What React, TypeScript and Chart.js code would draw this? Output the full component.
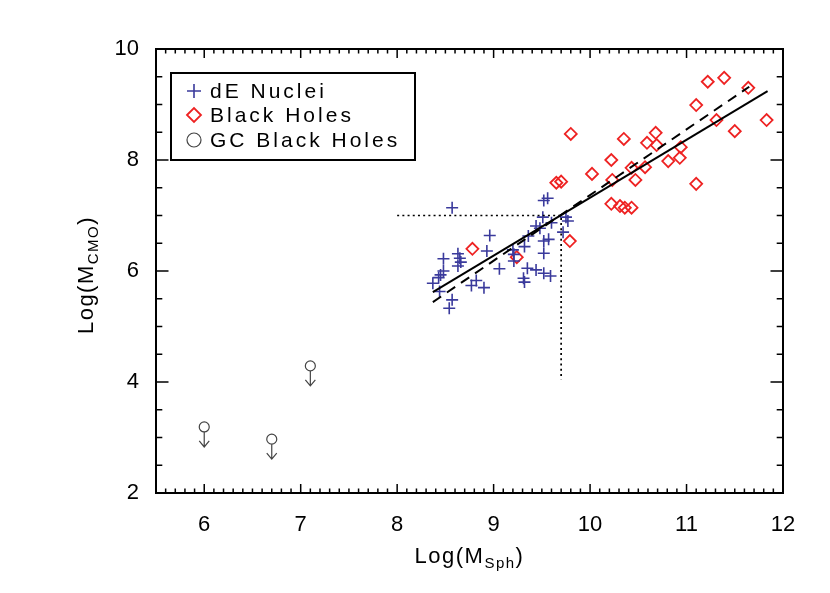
import React, { useEffect, useRef } from 'react';
import { Chart, registerables } from 'chart.js';

Chart.register(...registerables);

// ---- data ----
const seriesNames = ['dE Nuclei', 'Black Holes', 'GC Black Holes'];

const dENucleiX = [8.57, 8.96, 8.93, 8.48, 8.63, 8.65, 8.66, 8.63, 8.48, 8.45, 8.43, 8.37, 9.06, 8.82, 8.77, 8.90, 8.44, 8.57, 8.54,
  9.52, 9.56, 9.51, 9.60, 9.75, 9.77, 9.44, 9.48, 9.72, 9.36, 9.52, 9.57, 9.32, 9.20, 9.21, 9.52, 9.21, 9.35, 9.44, 9.52, 9.59, 9.31, 9.32];
const dENucleiY = [7.14, 6.64, 6.36, 6.22, 6.31, 6.23, 6.16, 6.09, 6.00, 5.93, 5.88, 5.78, 6.04, 5.83, 5.74, 5.70, 5.63, 5.48, 5.33,
  7.27, 7.31, 6.97, 6.87, 6.97, 6.90, 6.81, 6.77, 6.70, 6.63, 6.54, 6.57, 6.44, 6.38, 6.30, 6.32, 6.18, 6.05, 6.02, 5.96, 5.91, 5.87, 5.80];

const blackHoleX = [8.78, 9.24, 9.65, 9.70, 9.79, 9.80, 10.02, 10.22, 10.23, 10.22, 10.31, 10.36, 10.43, 10.35, 10.43, 10.47,
  10.57, 10.59, 10.68, 10.69, 10.81, 10.94, 10.93, 11.10, 11.10, 11.22, 11.31, 11.39, 11.50, 11.64, 11.83];
const blackHoleY = [6.40, 6.25, 7.59, 7.61, 6.54, 8.47, 7.75, 8.00, 7.64, 7.21, 7.17, 7.14, 7.14, 8.38, 7.86, 7.64,
  7.87, 8.31, 8.49, 8.27, 7.98, 8.23, 8.04, 8.99, 7.57, 9.41, 8.72, 9.48, 8.52, 9.30, 8.72];

const gcX = [6.0, 6.7, 7.1];
const gcY = [3.19, 2.97, 4.29];

const fitSolidX = [8.37, 11.84];
const fitSolidY = [5.62, 9.24];
const fitDashedX = [8.37, 11.65];
const fitDashedY = [5.44, 9.32];
const dottedX = [8.0, 9.7, 9.7];
const dottedY = [7.0, 7.0, 4.05];

const xTicks = [6, 7, 8, 9, 10, 11, 12];
const yTicks = [2, 4, 6, 8, 10];
const xTitle = ['Log(M', 'Sph', ')'];
const yTitle = ['Log(M', 'CMO', ')'];

const BLUE = '#3a3a9c';
const RED = '#ee2222';
const GRAY = '#444444';
const FONT = '"Liberation Sans", Arial, sans-serif';

const zip = (xs: number[], ys: number[]) => xs.map((x, i) => ({ x, y: ys[i] }));

function drawTitle(ctx: any, parts: string[], cx: number, base: number) {
  const big = `22px ${FONT}`;
  const small = `15px ${FONT}`;
  ctx.letterSpacing = '1.5px';
  ctx.font = big;
  const w0 = ctx.measureText(parts[0]).width;
  const w2 = ctx.measureText(parts[2]).width;
  ctx.font = small;
  const w1 = ctx.measureText(parts[1]).width;
  let x = cx - (w0 + w1 + w2) / 2;
  ctx.textAlign = 'left';
  ctx.textBaseline = 'alphabetic';
  ctx.font = big;
  ctx.fillText(parts[0], x, base);
  x += w0;
  ctx.font = small;
  ctx.fillText(parts[1], x, base + 5);
  x += w1;
  ctx.font = big;
  ctx.fillText(parts[2], x, base);
  ctx.letterSpacing = '0px';
}

const framePlugin = {
  id: 'idlFrame',
  afterDatasetsDraw(chart: any) {
    const { ctx, chartArea: a, scales } = chart;
    const xs = scales.x;
    const ys = scales.y;
    ctx.save();
    // GC upper-limit arrows
    const meta = chart.getDatasetMeta(2);
    ctx.strokeStyle = GRAY;
    ctx.lineWidth = 1.2;
    meta.data.forEach((p: any) => {
      ctx.beginPath();
      ctx.moveTo(p.x, p.y + 5);
      ctx.lineTo(p.x, p.y + 20);
      ctx.moveTo(p.x - 5, p.y + 14);
      ctx.lineTo(p.x, p.y + 20);
      ctx.lineTo(p.x + 5, p.y + 14);
      ctx.stroke();
    });

    // frame
    ctx.strokeStyle = '#000';
    ctx.lineWidth = 2;
    ctx.strokeRect(a.left, a.top, a.right - a.left, a.bottom - a.top);
    ctx.lineWidth = 1.5;
    ctx.beginPath();
    const xmin = Math.round(xs.min * 10), xmax = Math.round(xs.max * 10);
    for (let i = xmin + 1; i < xmax; i++) {
      const major = i % 10 === 0;
      const len = major ? 9 : 4.5;
      const px = xs.getPixelForValue(i / 10);
      ctx.moveTo(px, a.bottom);
      ctx.lineTo(px, a.bottom - len);
      ctx.moveTo(px, a.top);
      ctx.lineTo(px, a.top + len);
    }
    const ymin = Math.round(ys.min * 2), ymax = Math.round(ys.max * 2);
    for (let i = ymin + 1; i < ymax; i++) {
      const major = i % 4 === 0;
      const len = major ? 12.5 : 6.3;
      const py = ys.getPixelForValue(i / 2);
      ctx.moveTo(a.left, py);
      ctx.lineTo(a.left + len, py);
      ctx.moveTo(a.right, py);
      ctx.lineTo(a.right - len, py);
    }
    ctx.stroke();

    // legend
    const lx = 171, ly = 73, lw = 244, lh = 87;
    ctx.fillStyle = '#fff';
    ctx.fillRect(lx, ly, lw, lh);
    ctx.lineWidth = 2;
    ctx.strokeStyle = '#000';
    ctx.strokeRect(lx, ly, lw, lh);
    const rows = [91, 115, 140];
    const sx = 194;
    // plus
    ctx.strokeStyle = BLUE;
    ctx.lineWidth = 1.6;
    ctx.beginPath();
    ctx.moveTo(sx - 7, rows[0]); ctx.lineTo(sx + 7, rows[0]);
    ctx.moveTo(sx, rows[0] - 7); ctx.lineTo(sx, rows[0] + 7);
    ctx.stroke();
    // diamond
    ctx.strokeStyle = RED;
    ctx.lineWidth = 1.8;
    ctx.beginPath();
    ctx.moveTo(sx - 7, rows[1]); ctx.lineTo(sx, rows[1] - 7); ctx.lineTo(sx + 7, rows[1]); ctx.lineTo(sx, rows[1] + 7);
    ctx.closePath();
    ctx.stroke();
    // circle
    ctx.strokeStyle = GRAY;
    ctx.lineWidth = 1.2;
    ctx.beginPath();
    ctx.arc(sx, rows[2], 7, 0, Math.PI * 2);
    ctx.stroke();
    ctx.fillStyle = '#000';
    ctx.font = `21px ${FONT}`;
    ctx.letterSpacing = '3px';
    ctx.textAlign = 'left';
    ctx.textBaseline = 'middle';
    seriesNames.forEach((n, i) => ctx.fillText(n, 210, rows[i] + 1));
    ctx.letterSpacing = '0px';

    // axis titles
    ctx.fillStyle = '#000';
    drawTitle(ctx, xTitle, (a.left + a.right) / 2, 563);
    ctx.save();
    ctx.translate(93, (a.top + a.bottom) / 2 + 4);
    ctx.rotate(-Math.PI / 2);
    drawTitle(ctx, yTitle, 0, 0);
    ctx.restore();
    ctx.restore();
  },
};

export default function App() {
  const ref = useRef<HTMLCanvasElement>(null);
  useEffect(() => {
    if (!ref.current) return;
    const chart = new Chart(ref.current, {
      type: 'scatter',
      data: {
        datasets: [
          {
            label: seriesNames[0],
            data: zip(dENucleiX, dENucleiY),
            pointStyle: 'cross',
            pointRadius: 6,
            borderColor: BLUE,
            backgroundColor: BLUE,
            pointBorderWidth: 1.6,
            order: 1,
          },
          {
            label: seriesNames[1],
            data: zip(blackHoleX, blackHoleY),
            pointStyle: 'rectRot',
            pointRadius: 6,
            borderColor: RED,
            backgroundColor: 'rgba(0,0,0,0)',
            pointBorderWidth: 1.8,
            order: 2,
          },
          {
            label: seriesNames[2],
            data: zip(gcX, gcY),
            pointStyle: 'circle',
            pointRadius: 5,
            borderColor: GRAY,
            backgroundColor: 'rgba(0,0,0,0)',
            pointBorderWidth: 1.2,
            order: 3,
          },
          {
            label: 'fit',
            data: zip(fitSolidX, fitSolidY),
            showLine: true,
            pointRadius: 0,
            borderColor: '#000',
            borderWidth: 2,
            order: 0,
          },
          {
            label: 'fit2',
            data: zip(fitDashedX, fitDashedY),
            showLine: true,
            pointRadius: 0,
            borderColor: '#000',
            borderWidth: 2,
            borderDash: [10, 7],
            order: 0,
          },
          {
            label: 'limits',
            data: zip(dottedX, dottedY),
            showLine: true,
            pointRadius: 0,
            borderColor: '#000',
            borderWidth: 1.7,
            borderDash: [2, 3.2],
            order: 0,
          },
        ],
      },
      options: {
        responsive: false,
        animation: false,
        layout: { padding: { left: 0, top: 49, right: 47, bottom: 0 } },
        plugins: { legend: { display: false }, tooltip: { enabled: false } },
        scales: {
          x: {
            type: 'linear',
            min: 5.5,
            max: 12,
            grid: { display: false },
            border: { display: false },
            ticks: { color: '#000', font: { size: 22, family: FONT }, padding: 11, maxRotation: 0 },
            afterBuildTicks: (s: any) => { s.ticks = xTicks.map((v) => ({ value: v })); },
            afterFit: (s: any) => { s.height = 100; },
          },
          y: {
            type: 'linear',
            min: 2,
            max: 10,
            grid: { display: false },
            border: { display: false },
            ticks: { color: '#000', font: { size: 22, family: FONT }, padding: 9 },
            afterBuildTicks: (s: any) => { s.ticks = yTicks.map((v) => ({ value: v })); },
            afterFit: (s: any) => { s.width = 156; },
          },
        },
      },
      plugins: [framePlugin],
    });
    return () => chart.destroy();
  }, []);
  return (
    <canvas
      ref={ref}
      width={830}
      height={593}
      style={{ position: 'fixed', left: 0, top: 0, width: 830, height: 593, background: '#fff' }}
    />
  );
}
